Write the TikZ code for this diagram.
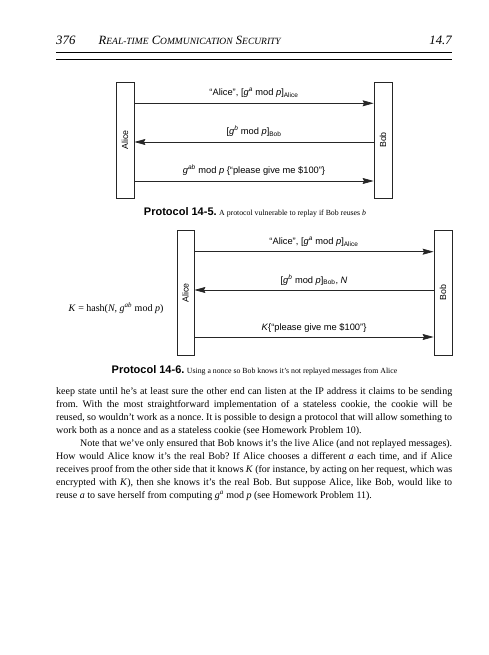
\documentclass[tikz,border=0pt]{standalone}
\usepackage{fontspec}
\setmainfont{Liberation Serif}
\newfontfamily\lsans{Liberation Sans}
\usetikzlibrary{arrows.meta}
\newcommand\fakesc[2]{{\fontsize{12.6}{14}\selectfont #1}{\fontsize{9.5}{11}\selectfont #2}}
\frenchspacing
\begin{document}
\begin{tikzpicture}[x=1pt,y=-1pt,
  party/.style={draw=black!85,line width=0.8pt,rotate=90,inner sep=0pt,font=\lsans\fontsize{8.8}{10}\selectfont},
  msg/.style={draw=black!85,line width=0.7pt,-{Stealth[length=11pt,width=6pt,inset=1.5pt]}},
  lbl/.style={anchor=base,font=\lsans\fontsize{9.3}{11}\selectfont,inner sep=0pt},
  caption/.style={anchor=base,inner sep=0pt},
  hdr/.style={anchor=base west,inner sep=0pt,font=\itshape\fontsize{12.8}{14}\selectfont}]
\useasboundingbox (0,0) rectangle (488,655);
% header
\node[hdr] (pg) at (56,44.3) {376};
\node[hdr] (title) at (98.5,44.3) {\fakesc{R}{EAL-TIME} \fakesc{C}{OMMUNICATION} \fakesc{S}{ECURITY}};
\node[hdr,anchor=base east] (sec) at (452,44.3) {14.7};
\coordinate (rl1) at (56,52.7); \coordinate (rr1) at (452,52.7);
\coordinate (rl2) at (56,59); \coordinate (rr2) at (452,59);
\draw[line width=1.1pt] (rl1) -- (rr1);
\draw[line width=0.6pt] (rl2) -- (rr2);
% Protocol 14-5
\node[party,minimum width=116pt,minimum height=18pt] (a1) at (125,140) {Alice};
\node[party,minimum width=116pt,minimum height=18pt] (b1) at (383,140) {Bob};
\coordinate (y11) at (0,103.3);
\coordinate (y12) at (0,142);
\coordinate (y13) at (0,181);
\draw[msg] (a1.south |- y11) -- (b1.north |- y11) node[lbl,midway,yshift=7.5pt] {“Alice”, [\textit{g}\textsuperscript{\textit{a}} mod \textit{p}]\textsubscript{Alice}};
\draw[msg] (b1.north |- y12) -- (a1.south |- y12) node[lbl,midway,yshift=7.5pt] {[\textit{g}\textsuperscript{\textit{b}} mod \textit{p}]\textsubscript{Bob}};
\draw[msg] (a1.south |- y13) -- (b1.north |- y13) node[lbl,midway,yshift=7.5pt] {\textit{g}\textsuperscript{\textit{ab}} mod \textit{p} \{“please give me \$100”\}};
\node[caption] (cap1) at (255,215) {{\lsans\bfseries\fontsize{11}{12}\selectfont Protocol 14-5.} {\fontsize{7.8}{10}\selectfont A protocol vulnerable to replay if Bob reuses \textit{b}}};
% Protocol 14-6
\node[party,minimum width=124.3pt,minimum height=17pt] (a2) at (185.5,292.9) {Alice};
\node[party,minimum width=124.3pt,minimum height=18pt] (b2) at (443,292.9) {Bob};
\coordinate (y21) at (0,251.7);
\coordinate (y22) at (0,290);
\coordinate (y23) at (0,337);
\draw[msg] (a2.south |- y21) -- (b2.north |- y21) node[lbl,midway,yshift=7pt] {“Alice”, [\textit{g}\textsuperscript{\textit{a}} mod \textit{p}]\textsubscript{Alice}};
\draw[msg] (b2.north |- y22) -- (a2.south |- y22) node[lbl,midway,yshift=7pt] {[\textit{g}\textsuperscript{\textit{b}} mod \textit{p}]\textsubscript{Bob}, \textit{N}};
\draw[msg] (a2.south |- y23) -- (b2.north |- y23) node[lbl,midway,yshift=7pt] {\textit{K}\{“please give me \$100”\}};
\node[anchor=base,inner sep=0pt,font=\fontsize{10}{12}\selectfont] (kh) at (116,311.5) {\textit{K} = hash(\textit{N}, \textit{g}\textsuperscript{\textit{ab}} mod \textit{p})};
\node[caption] (cap2) at (254.5,373.5) {{\lsans\bfseries\fontsize{11}{12}\selectfont Protocol 14-6.} {\fontsize{7.8}{10}\selectfont Using a nonce so Bob knows it’s not replayed messages from Alice}};
% body text
\node[anchor=base west,inner sep=0pt,text width=396pt,align=justify,font=\fontsize{10}{13}\selectfont] (body) at (56,394.5) {%
keep state until he’s at least sure the other end can listen at the IP address it claims to be sending\linebreak
from. With the most straightforward implementation of a stateless cookie, the cookie will be\linebreak
reused, so wouldn’t work as a nonce. It is possible to design a protocol that will allow something to\linebreak
work both as a nonce and as a stateless cookie (see Homework Problem 10).\par
\hspace*{24pt}Note that we’ve only ensured that Bob knows it’s the live Alice (and not replayed messages).\linebreak
How would Alice know it’s the real Bob? If Alice chooses a different \textit{a} each time, and if Alice\linebreak
receives proof from the other side that it knows \textit{K} (for instance, by acting on her request, which was\linebreak
encrypted with \textit{K}), then she knows it’s the real Bob. But suppose Alice, like Bob, would like to\linebreak
reuse \textit{a} to save herself from computing \textit{g}\textsuperscript{\textit{a}} mod \textit{p} (see Homework Problem 11).};
\end{tikzpicture}
\end{document}
